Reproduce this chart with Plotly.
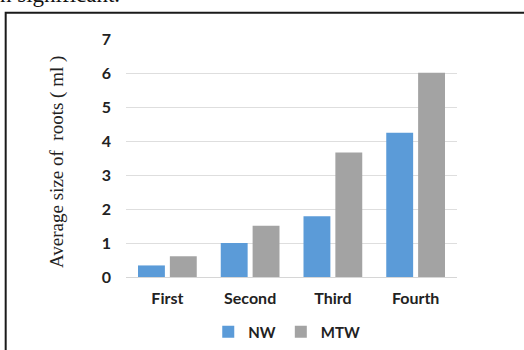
import plotly.graph_objects as go

# Root size per harvest stage for the two irrigation treatments
stages = ["First", "Second", "Third", "Fourth"]
nw_values = [0.34, 1.0, 1.79, 4.24]
mtw_values = [0.61, 1.51, 3.66, 6.01]
y_ticks = [0, 1, 2, 3, 4, 5, 6, 7]

W, H = 524, 350
L, R, T, B = 126, 66.5, 39.3, 73

plot_w = W - L - R
plot_h = H - T - B


def px_x(px):
    return (px - L) / plot_w


def px_y(py):
    return (H - B - py) / plot_h


fig = go.Figure()
fig.add_trace(go.Bar(name="NW", x=stages, y=nw_values,
                     marker=dict(color="#5b9bd8", line=dict(width=0))))
fig.add_trace(go.Bar(name="MTW", x=stages, y=mtw_values,
                     marker=dict(color="#a3a3a3", line=dict(width=0))))

sans = "Lato, Open Sans, sans-serif"
serif = "Liberation Serif, Times New Roman, serif"

fig.update_layout(
    width=W, height=H,
    margin=dict(l=L, r=R, t=T, b=B, autoexpand=False),
    paper_bgcolor="white", plot_bgcolor="white",
    barmode="group", bargap=0.23, bargroupgap=0.156,
    showlegend=True,
    legend=dict(orientation="h", x=px_x(287), y=px_y(332), xanchor="center", yanchor="middle",
                font=dict(family=sans, size=15, color="#222222", weight="bold"),
                itemwidth=30, traceorder="normal"),
    xaxis=dict(showgrid=False, showline=False, ticks="",
               tickfont=dict(family=sans, size=16, color="#222222", weight="bold"),
               ticklabelstandoff=10),
    yaxis=dict(range=[0, 7], tickvals=y_ticks, showgrid=True, gridcolor="#dedede", gridwidth=1,
               zeroline=True, zerolinecolor="#d6d6d6", zerolinewidth=1, showline=False, ticks="",
               tickfont=dict(family=sans, size=16, color="#222222", weight="bold"),
               ticklabelstandoff=14),
    font=dict(family=sans),
)

# Axis title in serif type, rotated
fig.add_annotation(text="Average size of  roots ( ml )", xref="paper", yref="paper",
                   x=px_x(57), y=px_y(162), textangle=-90, showarrow=False,
                   xanchor="center", yanchor="middle",
                   font=dict(family=serif, size=19, color="#222222"))

# Caption line running above the frame
fig.add_annotation(text="n significant.", xref="paper", yref="paper",
                   x=px_x(-2), y=px_y(9), showarrow=False, xanchor="left", yanchor="bottom",
                   font=dict(family=serif, size=23, color="#111111"))

# Frame around the figure
fig.add_shape(type="rect", xref="paper", yref="paper",
              x0=px_x(5.5), x1=px_x(540), y0=px_y(13), y1=px_y(370),
              line=dict(color="#1a1a1a", width=2), fillcolor="rgba(0,0,0,0)", layer="above")

fig.write_html("out.html")
